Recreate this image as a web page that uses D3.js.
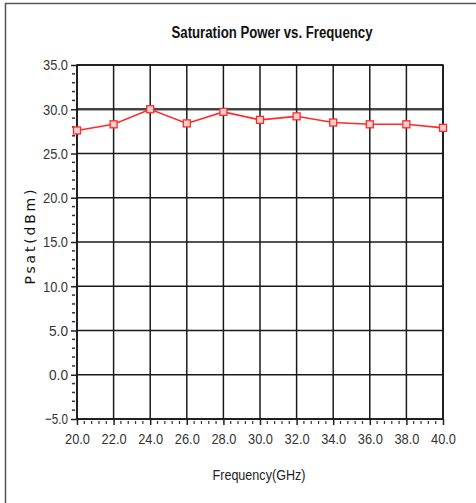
<!DOCTYPE html>
<html>
<head>
<meta charset="utf-8">
<script src="https://cdn.jsdelivr.net/npm/d3@7"></script>
<style>
  body { margin: 0; background: #fff; }
  svg { display: block; }
</style>
</head>
<body>
<svg width="476" height="503"></svg>
<script>
var freq = [20, 22, 24, 26, 28, 30, 32, 34, 36, 38, 40];
var psat = [27.6, 28.3, 30.0, 28.4, 29.7, 28.8, 29.2, 28.5, 28.3, 28.3, 27.9];
var yTicks = [-5, 0, 5, 10, 15, 20, 25, 30, 35];
var xTicks = [20, 22, 24, 26, 28, 30, 32, 34, 36, 38, 40];

var svg = d3.select("svg");
var plotL = 77, plotR = 443, plotT = 65, plotB = 419;
var narrow = "Liberation Sans Narrow, Liberation Sans, sans-serif";

var x = d3.scaleLinear().domain([20, 40]).range([plotL, plotR]);
var y = d3.scaleLinear().domain([-5, 35]).range([plotB, plotT]);

// outer frame (top and left visible)
svg.append("path")
  .attr("d", "M5.5,510 L5.5,3.5 L480,3.5")
  .attr("fill", "none")
  .attr("stroke", "#555")
  .attr("stroke-width", 1.5);

svg.append("text")
  .attr("x", 272).attr("y", 38)
  .attr("text-anchor", "middle")
  .attr("font-family", narrow)
  .attr("font-weight", "bold")
  .attr("font-size", 16)
  .attr("textLength", 201)
  .attr("lengthAdjust", "spacingAndGlyphs")
  .attr("fill", "#111")
  .text("Saturation Power vs. Frequency");

// grid
var grid = svg.append("g");
grid.selectAll("line.h").data(yTicks).enter().append("line")
  .attr("class", "h")
  .attr("x1", plotL).attr("x2", plotR)
  .attr("y1", function(d) { return y(d); })
  .attr("y2", function(d) { return y(d); })
  .attr("stroke", function(d) { return d == 30 ? "#444" : "#1a1a1a"; })
  .attr("stroke-width", function(d) { return d == 30 ? 2.5 : 1.5; });
grid.selectAll("line.v").data(xTicks).enter().append("line")
  .attr("class", "v")
  .attr("y1", plotT).attr("y2", plotB)
  .attr("x1", function(d) { return x(d); })
  .attr("x2", function(d) { return x(d); })
  .attr("stroke", "#1a1a1a")
  .attr("stroke-width", 1.5);

svg.append("rect")
  .attr("x", plotL).attr("y", plotT)
  .attr("width", plotR - plotL).attr("height", plotB - plotT)
  .attr("fill", "none").attr("stroke", "#111").attr("stroke-width", 1.5);

// y axis
var yAxis = svg.append("g").attr("transform", "translate(" + plotL + ",0)")
  .call(d3.axisLeft(y).tickValues(yTicks).tickSize(6).tickPadding(3)
    .tickFormat(d3.format(".1f")));
yAxis.select(".domain").remove();
yAxis.selectAll("line").attr("stroke", "#222").attr("stroke-width", 1.5);
yAxis.selectAll("text")
  .attr("font-family", narrow)
  .attr("font-size", 15)
  .attr("textLength", function(d) { return d < 0 ? 23 : (d >= 10 ? 25 : 19); })
  .attr("lengthAdjust", "spacingAndGlyphs")
  .attr("fill", "#333");

var yMinor = d3.range(-5, 35, 1).filter(function(d) { return d % 5 != 0; });
svg.append("g").selectAll("line").data(yMinor).enter().append("line")
  .attr("x1", plotL - 5).attr("x2", plotL - 2)
  .attr("y1", function(d) { return y(d); })
  .attr("y2", function(d) { return y(d); })
  .attr("stroke", "#333").attr("stroke-width", 1.5);

// x axis
var xAxis = svg.append("g").attr("transform", "translate(0," + plotB + ")")
  .call(d3.axisBottom(x).tickValues(xTicks).tickSize(6).tickPadding(8)
    .tickFormat(d3.format(".1f")));
xAxis.select(".domain").remove();
xAxis.selectAll("line").attr("stroke", "#222").attr("stroke-width", 1.5);
xAxis.selectAll("text")
  .attr("font-family", narrow)
  .attr("font-size", 15)
  .attr("textLength", 25)
  .attr("lengthAdjust", "spacingAndGlyphs")
  .attr("fill", "#333");

var xMinor = d3.range(20, 40, 0.4).filter(function(d, i) { return i % 5 != 0; });
svg.append("g").selectAll("line").data(xMinor).enter().append("line")
  .attr("y1", plotB + 2).attr("y2", plotB + 5)
  .attr("x1", function(d) { return x(d); })
  .attr("x2", function(d) { return x(d); })
  .attr("stroke", "#333").attr("stroke-width", 1.2);

svg.append("text")
  .attr("x", 259).attr("y", 480)
  .attr("text-anchor", "middle")
  .attr("font-family", narrow)
  .attr("font-size", 15)
  .attr("textLength", 93)
  .attr("lengthAdjust", "spacingAndGlyphs")
  .attr("fill", "#222")
  .text("Frequency(GHz)");

svg.append("text")
  .attr("transform", "translate(35,237) rotate(-90)")
  .attr("text-anchor", "middle")
  .attr("font-family", "DejaVu Sans, sans-serif")
  .attr("font-size", 14)
  .attr("textLength", 95)
  .attr("lengthAdjust", "spacing")
  .attr("fill", "#111")
  .text("Psat(dBm)");

// data line
var line = d3.line()
  .x(function(d, i) { return x(freq[i]); })
  .y(function(d) { return y(d); });
svg.append("path").datum(psat)
  .attr("d", line)
  .attr("fill", "none")
  .attr("stroke", "#ff2a2a")
  .attr("stroke-width", 1.6);

svg.append("g").selectAll("rect").data(psat).enter().append("rect")
  .attr("x", function(d, i) { return x(freq[i]) - 3.5; })
  .attr("y", function(d) { return y(d) - 3.5; })
  .attr("width", 7).attr("height", 7)
  .attr("fill", "#ffd0d0")
  .attr("stroke", "#ff2a2a")
  .attr("stroke-width", 1.3);
</script>
</body>
</html>
